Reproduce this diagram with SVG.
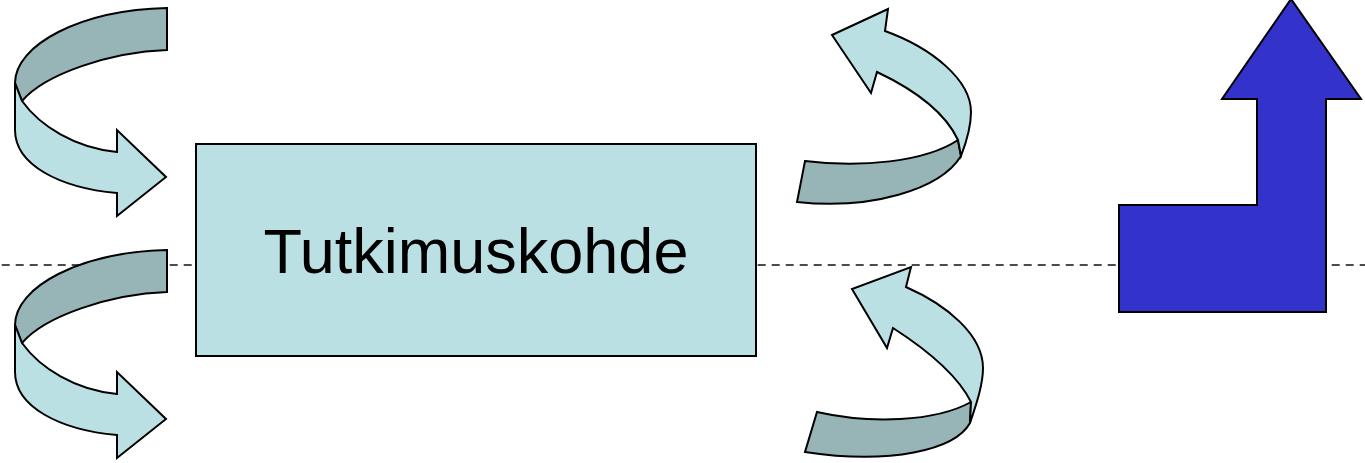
<svg xmlns="http://www.w3.org/2000/svg" width="1365" height="463" viewBox="0 0 1365 463">
<style>
.light{fill:#BBE0E3;stroke:#000;stroke-width:2;stroke-linejoin:miter}
.dark{fill:#97B5B7;stroke:#000;stroke-width:2;stroke-linejoin:miter}
.blue{fill:#3333CC;stroke:#000;stroke-width:2}
.box{fill:#BBE0E3;stroke:#000;stroke-width:2}
.dash{stroke:#111;stroke-width:1.6;stroke-dasharray:8 6;stroke-dashoffset:-1.7;fill:none}
.label{font-family:"Liberation Sans",Arial,sans-serif;font-size:63px;fill:#000}
</style>
<defs>
<g id="leftArrow">
<path class="dark" d="M167,8 L167,50 C110,52 45,74 22,101 L15,83 C15,45 80,10 167,8 Z"/>
<path class="light" d="M15,83 L22,101 C40,126 75,148 117,152 L117,130 L166,177 L117,216 L117,193 C60,188 15,165 15,130 Z"/>
</g>
</defs>
<g id="connectors">
<line class="dash" x1="0" y1="265" x2="1365" y2="265"/>
</g>
<g id="arrow-in-top">
<use href="#leftArrow"/>
</g>
<g id="arrow-in-bottom">
<use href="#leftArrow" transform="translate(0,242)"/>
</g>
<g id="tutkimuskohde">
<rect class="box" x="196" y="144" width="560" height="212"/>
<text class="label" x="476" y="273" text-anchor="middle">Tutkimuskohde</text>
</g>
<g id="arrow-out-top">
<path class="dark" d="M805,161 C860,168 925,162 958,140 L961,156 C940,190 870,210 797,202 Z"/>
<path class="light" d="M885,31 C932,48 971,80 971,112 C971,128 966,143 961,156 L958,140 C945,112 915,90 877,72 L871,93 L832,35 L888,9 Z"/>
</g>
<g id="arrow-out-bottom">
<path class="dark" d="M817,412 C870,424 935,422 971,402 L970,423 C955,450 890,465 805,452 Z"/>
<path class="light" d="M906,287 C947,305 983,335 983,368 C983,385 976,405 970,423 L971,402 C960,380 935,355 893,328 L887,348 L852,289 L911,267 Z"/>
</g>
<g id="bent-up-arrow">
<path class="blue" d="M1119,205 L1257,205 L1257,99 L1222,99 L1291,-1 L1361,99 L1326,99 L1326,312 L1119,312 Z"/>
</g>
</svg>
